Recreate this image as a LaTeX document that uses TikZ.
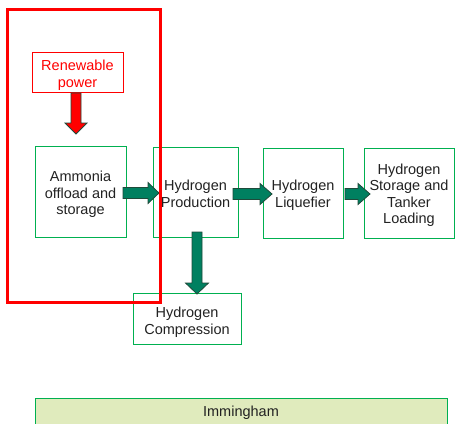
\documentclass[tikz,border=0pt]{standalone}
\usepackage{fontspec}
\setmainfont{Liberation Sans}
\definecolor{boxgreen}{HTML}{00B050}
\definecolor{arrfill}{HTML}{008060}
\definecolor{arrline}{HTML}{1F4A3A}
\definecolor{barfill}{HTML}{E0EBBD}
\definecolor{txt}{HTML}{222222}
\tikzset{
  lbl/.style={font=\fontsize{14.5}{16.5}\selectfont, text=txt, align=center, inner sep=0pt},
  gbox/.style={draw=boxgreen, line width=1pt, fill=white, inner sep=0pt},
  blk/.style={fill=arrfill, draw=arrline, line width=0.8pt, line join=miter},
  redblk/.style={fill=red, draw=arrline, line width=0.8pt},
}
\newcommand{\hblock}[4]{%
  \draw[blk] (#1,#4-5.5) -- (#2,#4-5.5) -- (#2,#4-10.5) -- (#3,#4) -- (#2,#4+10.5) -- (#2,#4+5.5) -- (#1,#4+5.5) -- cycle;}
\begin{document}
\begin{tikzpicture}[x=1pt,y=-1pt]
\useasboundingbox (0,0) rectangle (455,423);
\clip (0,0) rectangle (455,423);
% boxes
\node[gbox, minimum width=91pt, minimum height=91pt] (amm) at (80.5,191.5) {};
\node[gbox, minimum width=85pt, minimum height=90pt] (prod) at (195.5,192) {};
\node[gbox, minimum width=80pt, minimum height=90pt] (liq) at (303,193) {};
\node[gbox, minimum width=90pt, minimum height=90pt] (stor) at (409,193) {};
\node[gbox, minimum width=108pt, minimum height=51pt] (comp) at (187,318.5) {};
\node[draw=red, line width=0.9pt, fill=white, minimum width=91pt, minimum height=40pt,
  inner sep=0pt] (ren) at (77.5,72) {};
% labels
\node[lbl] (tamm) at ([yshift=-3pt]amm.center) {Ammonia\\offload and\\storage};
\node[lbl] (tprod) at ([yshift=-2pt]prod.center) {Hydrogen\\Production};
\node[lbl] (tliq) at ([yshift=-2pt]liq.center) {Hydrogen\\Liquefier};
\node[lbl] (tstor) at ([yshift=-2pt]stor.center) {Hydrogen\\Storage and\\Tanker\\Loading};
\node[lbl] (tcomp) at ([yshift=-3.5pt]comp.center) {Hydrogen\\Compression};
\node[lbl, text=red] (tren) at ([yshift=-3pt]ren.center) {Renewable\\power};
% arrows
\hblock{123}{148}{159}{193}
\hblock{233}{260}{272}{194}
\hblock{345}{358}{370}{194}
\draw[blk] (192,232) -- (202,232) -- (202,283) -- (208.5,283) -- (197,294) -- (185.5,283) -- (192,283) -- cycle;
\draw[redblk] (71,93) -- (81,93) -- (81,123) -- (87,123) -- (76,134) -- (65,123) -- (71,123) -- cycle;
% red frame
\draw[red, line width=3pt] (7.5,9.5) rectangle (160.5,302.5);
% Immingham bar
\node[gbox, fill=barfill, anchor=north west, minimum width=412pt, minimum height=33pt] (bar) at (35,397.5) {};
\node[lbl] (imm) at (241,413) {Immingham};
\end{tikzpicture}
\end{document}
